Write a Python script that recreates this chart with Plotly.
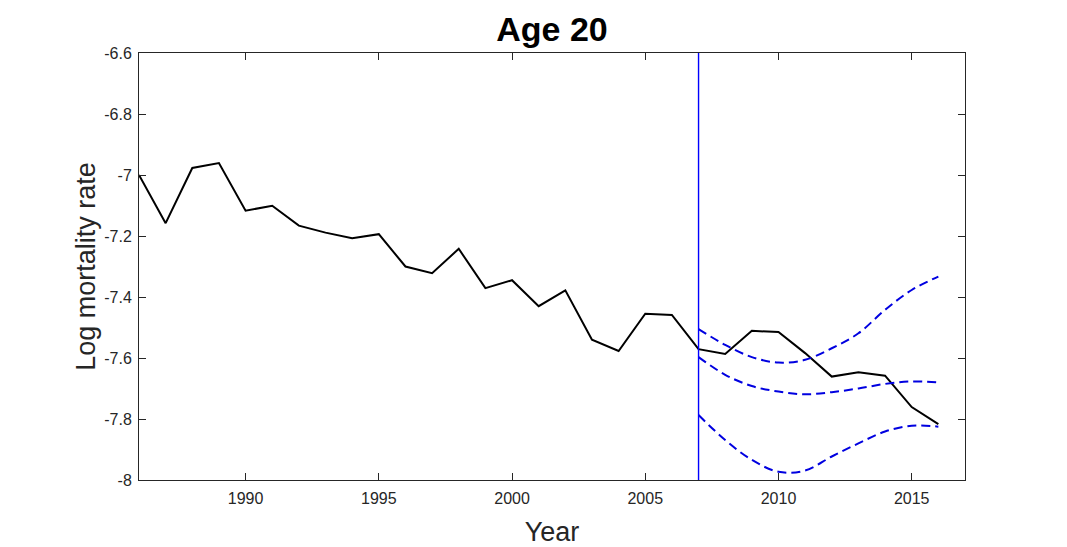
import plotly.graph_objects as go

# observed log mortality, age 20
years = list(range(1986, 2017))
log_mort = [-7.000, -7.158, -6.977, -6.961, -7.117, -7.101, -7.166, -7.189, -7.207, -7.194,
            -7.300, -7.322, -7.242, -7.371, -7.345, -7.430, -7.378, -7.540, -7.577, -7.455,
            -7.459, -7.571, -7.587, -7.511, -7.515, -7.584, -7.661, -7.647, -7.658, -7.761,
            -7.817]

# forecast from 2007 with bounds
fc_years = list(range(2007, 2017))
fc_upper = [-7.505, -7.557, -7.597, -7.615, -7.606, -7.568, -7.519, -7.442, -7.377, -7.333]
fc_mid = [-7.597, -7.655, -7.692, -7.710, -7.719, -7.712, -7.700, -7.685, -7.677, -7.680]
fc_lower = [-7.787, -7.869, -7.934, -7.973, -7.969, -7.923, -7.880, -7.841, -7.822, -7.825]

split_year = 2007
y_range = [-8, -6.6]
x_range = [1986, 2017]

x_ticks = [1990, 1995, 2000, 2005, 2010, 2015]
y_ticks = [-8, -7.8, -7.6, -7.4, -7.2, -7, -6.8, -6.6]
y_ticklabels = ['-8', '-7.8', '-7.6', '-7.4', '-7.2', '-7', '-6.8', '-6.6']

FONT = 'Liberation Sans, Arial'

fig = go.Figure()

fig.add_trace(go.Scatter(x=years, y=log_mort, mode='lines',
                         line=dict(color='black', width=2)))

for band in [fc_upper, fc_mid, fc_lower]:
    fig.add_trace(go.Scatter(x=fc_years, y=band, mode='lines',
                             line=dict(color='#0000e0', width=2, dash='9px,5px', shape='spline')))

fig.add_trace(go.Scatter(x=[split_year, split_year], y=y_range, mode='lines',
                         line=dict(color='#0000ff', width=1.4)))

axis_style = dict(showgrid=False, zeroline=False, showline=True, linecolor='#262626',
                  linewidth=1, mirror='ticks', ticks='inside', ticklen=7, tickcolor='#262626',
                  tickfont=dict(family=FONT, size=16, color='#262626'))

fig.update_xaxes(range=x_range, tickvals=x_ticks, ticklabelstandoff=4,
                 title=dict(text='Year', font=dict(family=FONT, size=27, color='#262626'),
                            standoff=15),
                 **axis_style)
fig.update_yaxes(range=y_range, tickvals=y_ticks, ticktext=y_ticklabels, ticklabelstandoff=3,
                 title=dict(text='Log mortality rate', font=dict(family=FONT, size=27, color='#262626'),
                            standoff=0),
                 **axis_style)

# page body has an 8px margin, so margins are shifted to land the plot area in place
fig.update_layout(
    width=1067, height=547,
    margin=dict(l=131, r=110, t=45, b=75),
    paper_bgcolor='white', plot_bgcolor='white',
    showlegend=False,
    title=dict(text='<b>Age 20</b>', xref='paper', x=0.5, xanchor='center', y=0.962, yanchor='middle',
               font=dict(family=FONT, size=34, color='black')),
)

fig.write_html("out.html")
